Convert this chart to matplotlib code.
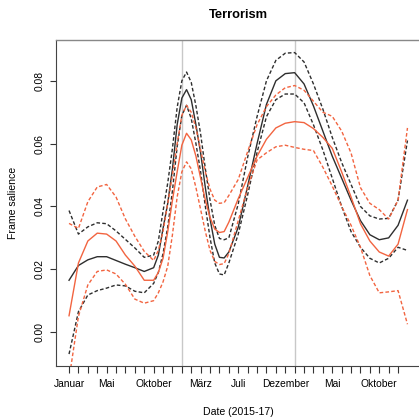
import matplotlib
matplotlib.use('Agg')
import matplotlib.pyplot as plt

plt.rcParams['font.family'] = ['Liberation Sans', 'DejaVu Sans']

# months since Januar 2015 (finer steps around the sharp early-2016 peak)
months = [0, 1, 2, 3, 4, 5, 6, 7, 8, 9,
          9.5, 10, 10.5, 11, 11.5, 12, 12.5, 13, 13.5, 14, 14.5, 15, 15.5, 16, 16.5, 17,
          18, 19, 20, 21, 22, 23, 24, 25, 26, 27, 28, 29, 30, 31, 32, 33, 34, 35, 36]

black_fit = [0.0165, 0.0212, 0.0230, 0.0240, 0.0240, 0.0228, 0.0216, 0.0205, 0.0193, 0.0205,
             0.0245, 0.0330, 0.0410, 0.0520, 0.0660, 0.0745, 0.0772, 0.0740, 0.0660, 0.0570,
             0.0460, 0.0360, 0.0280, 0.0238, 0.0236, 0.0255,
             0.0334, 0.0465, 0.0600, 0.0725, 0.0800, 0.0823, 0.0826, 0.0790, 0.0720, 0.0640,
             0.0560, 0.0490, 0.0420, 0.0355, 0.0310, 0.0294, 0.0300, 0.0340, 0.0420]
black_upper = [0.0387, 0.0312, 0.0335, 0.0348, 0.0345, 0.0322, 0.0295, 0.0268, 0.0238, 0.0245,
               0.0290, 0.0385, 0.0475, 0.0585, 0.0715, 0.0800, 0.0828, 0.0795, 0.0720, 0.0630,
               0.0520, 0.0420, 0.0340, 0.0298, 0.0294, 0.0300,
               0.0408, 0.0557, 0.0686, 0.0800, 0.0865, 0.0888, 0.0890, 0.0860, 0.0790, 0.0710,
               0.0620, 0.0540, 0.0470, 0.0400, 0.0370, 0.0360, 0.0362, 0.0420, 0.0610]
black_lower = [-0.0070, 0.0065, 0.0118, 0.0132, 0.0140, 0.0150, 0.0147, 0.0130, 0.0125, 0.0155,
               0.0190, 0.0250, 0.0335, 0.0450, 0.0590, 0.0690, 0.0722, 0.0680, 0.0600, 0.0510,
               0.0400, 0.0300, 0.0220, 0.0185, 0.0182, 0.0220,
               0.0312, 0.0437, 0.0572, 0.0686, 0.0740, 0.0758, 0.0758, 0.0730, 0.0660, 0.0580,
               0.0490, 0.0400, 0.0320, 0.0270, 0.0235, 0.0220, 0.0235, 0.0270, 0.0260]

red_fit = [0.0052, 0.0220, 0.0290, 0.0315, 0.0312, 0.0290, 0.0245, 0.0210, 0.0165, 0.0165,
           0.0190, 0.0235, 0.0320, 0.0420, 0.0510, 0.0595, 0.0633, 0.0612, 0.0560, 0.0490,
           0.0420, 0.0365, 0.0328, 0.0317, 0.0320, 0.0350,
           0.0425, 0.0492, 0.0560, 0.0614, 0.0650, 0.0665, 0.0670, 0.0667, 0.0648, 0.0620,
           0.0585, 0.0510, 0.0430, 0.0345, 0.0290, 0.0255, 0.0242, 0.0280, 0.0390]
red_upper = [0.0346, 0.0330, 0.0415, 0.0462, 0.0470, 0.0430, 0.0360, 0.0305, 0.0257, 0.0228,
             0.0260, 0.0320, 0.0410, 0.0500, 0.0600, 0.0690, 0.0722, 0.0700, 0.0650, 0.0580,
             0.0510, 0.0455, 0.0420, 0.0410, 0.0412, 0.0435,
             0.0486, 0.0575, 0.0660, 0.0718, 0.0755, 0.0778, 0.0785, 0.0770, 0.0735, 0.0700,
             0.0687, 0.0640, 0.0570, 0.0460, 0.0410, 0.0390, 0.0360, 0.0420, 0.0650]
red_lower = [-0.0150, 0.0050, 0.0150, 0.0193, 0.0198, 0.0185, 0.0152, 0.0105, 0.0092, 0.0100,
             0.0125, 0.0160, 0.0210, 0.0310, 0.0430, 0.0510, 0.0542, 0.0520, 0.0460, 0.0390,
             0.0320, 0.0260, 0.0225, 0.0215, 0.0218, 0.0250,
             0.0355, 0.0460, 0.0548, 0.0571, 0.0590, 0.0595, 0.0588, 0.0582, 0.0578, 0.0525,
             0.0465, 0.0400, 0.0340, 0.0270, 0.0180, 0.0125, 0.0128, 0.0132, 0.0025]

tick_months = list(range(36))
label_months = [0, 4, 9, 14, 18, 23, 28, 33]
label_names = ['Januar', 'Mai', 'Oktober', 'März', 'Juli', 'Dezember', 'Mai', 'Oktober']
year_lines = [12, 24]
y_ticks = [0.00, 0.02, 0.04, 0.06, 0.08]

fig = plt.figure(figsize=(4.19, 4.19), dpi=100)
ax = fig.add_axes([55.5 / 419, 53 / 419, 365.5 / 419, 326 / 419])

for m in year_lines:
    ax.axvline(m, color='#c8c8c8', lw=1.0, zorder=1)

dash = (0, (2.6, 1.6))
blk = '#2e2e2e'
red = '#f26440'
ax.plot(months, black_fit, color=blk, lw=1.0)
ax.plot(months, black_upper, color=blk, lw=1.0, linestyle=dash)
ax.plot(months, black_lower, color=blk, lw=1.0, linestyle=dash)
ax.plot(months, red_fit, color=red, lw=1.0)
ax.plot(months, red_upper, color=red, lw=1.0, linestyle=dash)
ax.plot(months, red_lower, color=red, lw=1.0, linestyle=dash)

ax.set_xlim(-1.44, 37.44)
ax.set_ylim(-0.0108, 0.0930)

labels = [''] * len(tick_months)
for m, name in zip(label_months, label_names):
    labels[m] = name
ax.set_xticks(tick_months)
ax.set_xticklabels(labels)
ax.set_yticks(y_ticks)
ax.set_yticklabels(['%.2f' % v for v in y_ticks])

ax.tick_params(axis='x', length=5, width=0.8, pad=4.5, labelsize=7.4, color='#333333')
ax.tick_params(axis='y', length=4.3, width=0.8, pad=3.5, labelsize=7.4, color='#333333',
               labelrotation=90)
for lab in ax.get_yticklabels():
    lab.set_va('center')

for side in ['left', 'bottom']:
    ax.spines[side].set_color('#444444')
    ax.spines[side].set_linewidth(0.8)
ax.spines['top'].set_color('#888888')
ax.spines['top'].set_linewidth(1.0)
ax.spines['right'].set_visible(False)

fig.text(238 / 419, 1 - 15 / 419, 'Terrorism', ha='center', va='center',
         fontsize=9.3, fontweight='bold')
fig.text(238 / 419, 1 - 412 / 419, 'Date (2015-17)', ha='center', va='center', fontsize=7.6)
fig.text(12.7 / 419, 1 - 203 / 419, 'Frame salience', ha='center', va='center',
         rotation=90, fontsize=7.6)

fig.savefig('out.png', dpi=100)
